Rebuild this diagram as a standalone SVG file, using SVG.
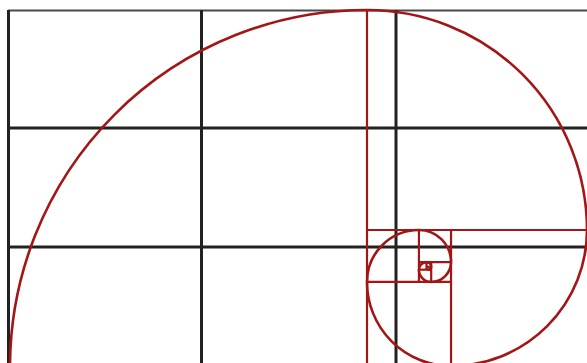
<svg xmlns="http://www.w3.org/2000/svg" width="587" height="363" viewBox="0 0 587 363">
  <style>
    .grid { stroke: #222222; stroke-width: 3; fill: none; }
    .border { stroke: #4a4a4a; stroke-width: 2; fill: none; }
    .div { stroke: #a31616; stroke-width: 2.2; fill: none; }
    .spiral { stroke: #a31616; stroke-width: 2.6; fill: none; stroke-linecap: round; }
  </style>
  <rect x="0" y="0" width="587" height="363" fill="#ffffff"/>
  <g id="grid">
    <line class="border" x1="8" y1="10.5" x2="587" y2="10.5"/>
    <line class="grid" x1="8.5" y1="10" x2="8.5" y2="363"/>
    <line class="grid" x1="201.5" y1="10" x2="201.5" y2="363"/>
    <line class="grid" x1="396" y1="10" x2="396" y2="363"/>
    <line class="grid" x1="8" y1="128" x2="587" y2="128"/>
    <line class="grid" x1="8" y1="247" x2="587" y2="247"/>
  </g>
  <g id="squares">
    <line class="div" x1="367" y1="10" x2="367" y2="363"/>
    <line class="div" x1="367" y1="230" x2="587" y2="230"/>
    <line class="div" x1="451.03" y1="230" x2="451.03" y2="363"/>
    <line class="div" x1="367" y1="281.94" x2="451.03" y2="281.94"/>
    <line class="div" x1="418.93" y1="230" x2="418.93" y2="281.94"/>
    <line class="div" x1="418.93" y1="262.1" x2="451.03" y2="262.1"/>
    <line class="div" x1="431.19" y1="262.1" x2="431.19" y2="281.94"/>
    <line class="div" x1="418.93" y1="269.68" x2="431.19" y2="269.68"/>
    <line class="div" x1="426.51" y1="262.1" x2="426.51" y2="269.68"/>
    <line class="div" x1="426.51" y1="266.78" x2="431.19" y2="266.78"/>
  </g>
  <g id="spiral">
    <path class="spiral" d="M 10 367 A 357 357 0 0 1 367 10 A 220 220 0 0 1 587 230 A 135.97 135.97 0 0 1 451.03 365.97 A 84.03 84.03 0 0 1 367 281.94 A 51.93 51.93 0 0 1 418.93 230 A 32.1 32.1 0 0 1 451.03 262.1 A 19.84 19.84 0 0 1 431.19 281.94 A 12.26 12.26 0 0 1 418.93 269.68 A 7.58 7.58 0 0 1 426.51 262.1 A 4.68 4.68 0 0 1 431.19 266.78 A 2.89 2.89 0 0 1 428.3 269.67"/>
  </g>
</svg>
